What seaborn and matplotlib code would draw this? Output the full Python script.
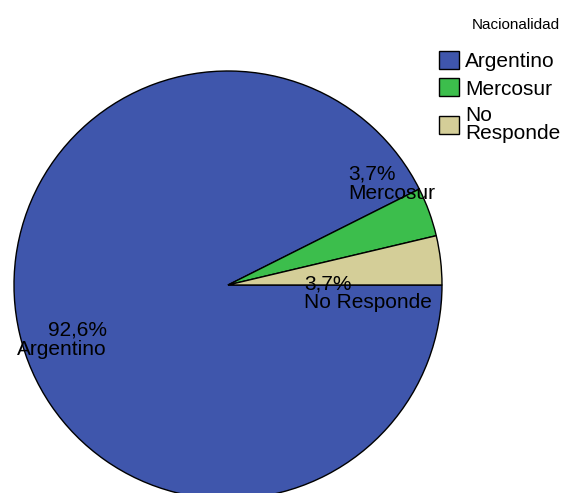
import matplotlib
matplotlib.use("Agg")
import matplotlib.pyplot as plt
from matplotlib.patches import Patch
import seaborn as sns

# Data
categories = ["Argentino", "Mercosur", "No Responde"]
legend_labels = ["Argentino", "Mercosur", "No\nResponde"]
percentages = [92.6, 3.7, 3.7]
colors = ["#3F56AC", "#3CBE4C", "#D4CE98"]

sns.set_style("white")
plt.rcParams["font.family"] = ["Liberation Sans", "DejaVu Sans"]
plt.rcParams["text.color"] = "black"

fig = plt.figure(figsize=(5.68, 4.93), dpi=100)
ax = fig.add_axes([0, 0, 1, 1])

wedges, _ = ax.pie(percentages, colors=colors, startangle=0, counterclock=False,
                   center=(228, 208), radius=214,
                   wedgeprops=dict(edgecolor="black", linewidth=1))
ax.set_xlim(0, 568)
ax.set_ylim(0, 493)
ax.set_aspect("equal")
ax.axis("off")

# slice labels
fmt = lambda p: f"{p:.1f}".replace(".", ",") + "%"
ax.text(107, 153, f"{fmt(percentages[0])}\n{categories[0]}", ha="right", va="center",
        multialignment="right", fontsize=15, linespacing=1.05)
ax.text(348, 309, f"{fmt(percentages[1])}\n{categories[1]}", ha="left", va="center",
        multialignment="left", fontsize=15, linespacing=1.0)
ax.text(304, 200, f"{fmt(percentages[2])}\n{categories[2]}", ha="left", va="center",
        multialignment="left", fontsize=15, linespacing=1.0)

# legend
fig.text(560 / 568, 1 - 25 / 493, "Nacionalidad", ha="right", va="center", fontsize=11)
handles = [Patch(facecolor=c, edgecolor="black", linewidth=1) for c in colors]
leg = fig.legend(handles, legend_labels, loc="upper left",
                 bbox_to_anchor=(439 / 568, 1 - 51 / 493), frameon=False,
                 fontsize=15, handlelength=0.95, handleheight=0.95,
                 handletextpad=0.3, labelspacing=0.35, borderpad=0, borderaxespad=0)
for t in leg.get_texts():
    t.set_linespacing(0.95)

fig.savefig("out.png", dpi=100)
